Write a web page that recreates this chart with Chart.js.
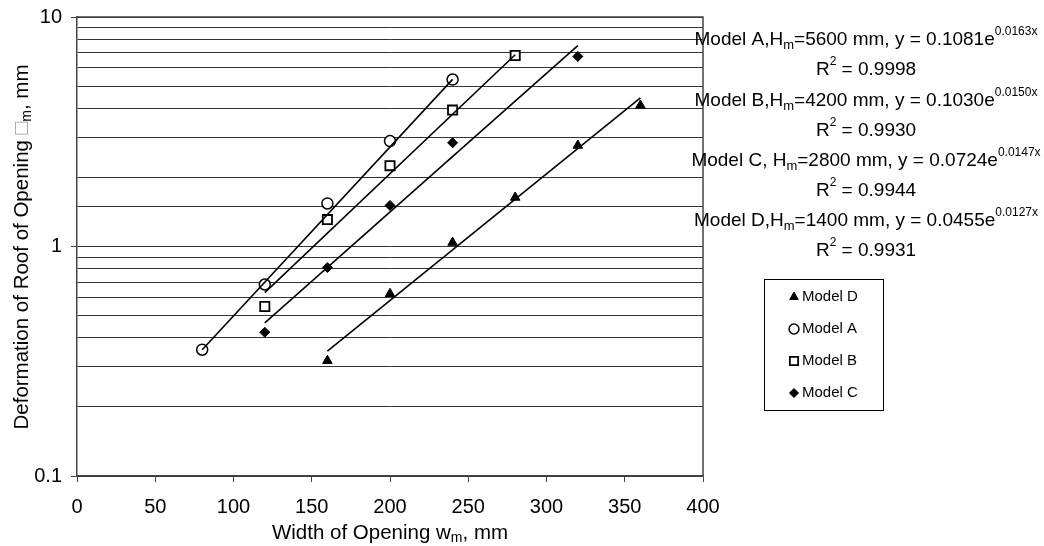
<!DOCTYPE html>
<html>
<head>
<meta charset="utf-8">
<script src="https://cdn.jsdelivr.net/npm/chart.js@4/dist/chart.umd.min.js"></script>
<style>
  html, body { margin: 0; padding: 0; background: #fff; }
  #wrap { width: 1044px; height: 546px; position: relative; }
</style>
</head>
<body>
<div id="wrap"><canvas id="c" width="1044" height="546"></canvas></div>
<script>
// ---- data ----
const widthsA = [80, 120, 160, 200, 240];
const deformA = [0.355, 0.683, 1.54, 2.88, 5.34];
const widthsB = [120, 160, 200, 240, 280];
const deformB = [0.548, 1.31, 2.25, 3.93, 6.8];
const widthsC = [120, 160, 200, 240, 320];
const deformC = [0.423, 0.81, 1.51, 2.83, 6.73];
const widthsD = [160, 200, 240, 280, 320, 360];
const deformD = [0.318, 0.622, 1.04, 1.635, 2.755, 4.12];

// trendline end points
const trendA_x = [80, 240];  const trendA_y = [0.355, 5.35];
const trendB_x = [120, 280]; const trendB_y = [0.63, 6.85];
const trendC_x = [120, 320]; const trendC_y = [0.465, 7.5];
const trendD_x = [160, 360]; const trendD_y = [0.35, 4.44];

const xTicks = [0, 50, 100, 150, 200, 250, 300, 350, 400];
const yTickLabels = [0.1, 1, 10];

const legendOrder = ['Model D', 'Model A', 'Model B', 'Model C'];

const annotations = [
  [["Model A,H", "n"], ["m", "sub"], ["=5600 mm, y = 0.1081e", "n"], ["0.0163x", "sup"]],
  [["R", "n"], ["2", "sup"], [" = 0.9998", "n"]],
  [["Model B,H", "n"], ["m", "sub"], ["=4200 mm, y = 0.1030e", "n"], ["0.0150x", "sup"]],
  [["R", "n"], ["2", "sup"], [" = 0.9930", "n"]],
  [["Model C, H", "n"], ["m", "sub"], ["=2800 mm, y = 0.0724e", "n"], ["0.0147x", "sup"]],
  [["R", "n"], ["2", "sup"], [" = 0.9944", "n"]],
  [["Model D,H", "n"], ["m", "sub"], ["=1400 mm, y = 0.0455e", "n"], ["0.0127x", "sup"]],
  [["R", "n"], ["2", "sup"], [" = 0.9931", "n"]]
];

// ---- helpers ----
const FAM = '"Liberation Sans", Arial, Helvetica, sans-serif';
function pts(xs, ys) { return xs.map((x, i) => ({ x: x, y: ys[i] })); }

const styles = {
  'Model A': { pointStyle: 'circle', radius: 5.5, bg: '#fff', bw: 1.5 },
  'Model B': { pointStyle: 'rect', radius: 6.5, bg: '#fff', bw: 1.8 },
  'Model C': { pointStyle: 'rectRot', radius: 5, bg: '#000', bw: 1 },
  'Model D': { pointStyle: 'triangle', radius: 5.5, bg: '#000', bw: 1 }
};

function markerDs(label, xs, ys) {
  const s = styles[label];
  return {
    label: label, data: pts(xs, ys), order: 2, showLine: false,
    pointStyle: s.pointStyle, pointRadius: s.radius, pointHoverRadius: s.radius,
    pointBackgroundColor: s.bg, pointBorderColor: '#000', pointBorderWidth: s.bw
  };
}
function trendDs(label, xs, ys) {
  return {
    label: label, data: pts(xs, ys), order: 1, showLine: true,
    borderColor: '#000', borderWidth: 1.6, pointRadius: 0, pointHoverRadius: 0, fill: false
  };
}

const fontSets = {
  ann:   { n: { size: 19, dy: 0 }, sub: { size: 13, dy: 5 }, sup: { size: 12, dy: -8 }, box: { size: 19, dy: 0 } },
  title: { n: { size: 20.5, dy: 0 }, sub: { size: 14, dy: 5 }, sup: { size: 13, dy: -8 }, box: { size: 21, dy: 0 } }
};

function drawRich(ctx, parts, cx, cy, set) {
  const fs = fontSets[set];
  let total = 0;
  const ws = parts.map(p => {
    ctx.font = fs[p[1]].size + 'px ' + FAM;
    const w = ctx.measureText(p[0]).width; total += w; return w;
  });
  let x = cx - total / 2;
  parts.forEach((p, i) => {
    const f = fs[p[1]];
    ctx.font = f.size + 'px ' + FAM;
    ctx.fillStyle = p[1] === 'box' ? '#9a9a9a' : '#000';
    ctx.fillText(p[0], x, cy + f.dy);
    x += ws[i];
  });
}

const decorPlugin = {
  id: 'decor',
  afterDraw(chart) {
    const ctx = chart.ctx;
    const a = chart.chartArea;
    ctx.save();
    // frame: top and right borders
    ctx.strokeStyle = '#444';
    ctx.lineWidth = 1.5;
    ctx.beginPath();
    ctx.moveTo(a.left, a.top);
    ctx.lineTo(a.right, a.top);
    ctx.lineTo(a.right, a.bottom);
    ctx.stroke();

    ctx.textAlign = 'left';
    ctx.textBaseline = 'middle';
    // equation annotations
    const ys = [40, 70, 101, 131, 161, 191, 221, 251];
    annotations.forEach((parts, i) => drawRich(ctx, parts, 866, ys[i], 'ann'));

    // x title
    drawRich(ctx, [["Width of Opening w", "n"], ["m", "sub"], [", mm", "n"]], (a.left + a.right) / 2, 533, 'title');
    // y title
    ctx.save();
    ctx.translate(22, 247);
    ctx.rotate(-Math.PI / 2);
    drawRich(ctx, [["Deformation of Roof of Opening ", "n"], ["\u25A1", "box"], ["m", "sub"], [", mm", "n"]], 0, 0, 'title');
    ctx.restore();

    // legend box
    const lx = 764, ly = 279, lw = 119, lh = 131;
    ctx.strokeStyle = '#000';
    ctx.lineWidth = 1;
    ctx.strokeRect(lx + 0.5, ly + 0.5, lw, lh);
    const rowY = [297, 329, 361, 393];
    legendOrder.forEach((name, i) => {
      const s = styles[name];
      ctx.fillStyle = s.bg;
      ctx.strokeStyle = '#000';
      ctx.lineWidth = s.bw;
      Chart.helpers.drawPoint(ctx, {
        pointStyle: s.pointStyle, radius: s.radius * 0.9, rotation: 0, borderWidth: s.bw
      }, 794, rowY[i]);
      ctx.fillStyle = '#000';
      ctx.font = '15px ' + FAM;
      ctx.textAlign = 'left';
      ctx.textBaseline = 'middle';
      ctx.fillText(name, 802, rowY[i]);
    });
    ctx.restore();
  }
};

new Chart(document.getElementById('c'), {
  type: 'scatter',
  data: {
    datasets: [
      markerDs('Model D', widthsD, deformD),
      markerDs('Model A', widthsA, deformA),
      markerDs('Model B', widthsB, deformB),
      markerDs('Model C', widthsC, deformC),
      trendDs('Trend A', trendA_x, trendA_y),
      trendDs('Trend B', trendB_x, trendB_y),
      trendDs('Trend C', trendC_x, trendC_y),
      trendDs('Trend D', trendD_x, trendD_y)
    ]
  },
  options: {
    responsive: false,
    animation: false,
    devicePixelRatio: 1,
    layout: { padding: { left: 0, top: 17, right: 341, bottom: 0 } },
    plugins: { legend: { display: false }, tooltip: { enabled: false } },
    scales: {
      x: {
        type: 'linear', min: 0, max: 400,
        afterBuildTicks: (s) => { s.ticks = xTicks.map(v => ({ value: v })); },
        afterFit: (s) => { s.height = 70; s.paddingLeft = 0; s.paddingRight = 0; },
        ticks: { color: '#000', font: { family: FAM, size: 20 }, padding: 13, maxRotation: 0 },
        grid: { drawOnChartArea: false, drawTicks: true, tickLength: 6, color: '#444' },
        border: { display: true, color: '#444', width: 1.5 }
      },
      y: {
        type: 'logarithmic', min: 0.1, max: 10,
        afterFit: (s) => { s.width = 77; s.paddingTop = 0; s.paddingBottom = 0; },
        ticks: {
          color: '#000', font: { family: FAM, size: 20 }, padding: 9, autoSkip: false,
          callback: (v) => yTickLabels.includes(Number(v)) ? String(v) : ''
        },
        grid: {
          color: '#333', lineWidth: 1, tickLength: 6,
          tickColor: (ctx) => (ctx.tick && yTickLabels.includes(Number(ctx.tick.value))) ? '#444' : 'rgba(0,0,0,0)'
        },
        border: { display: true, color: '#444', width: 1.5 }
      }
    }
  },
  plugins: [decorPlugin]
});
</script>
</body>
</html>
